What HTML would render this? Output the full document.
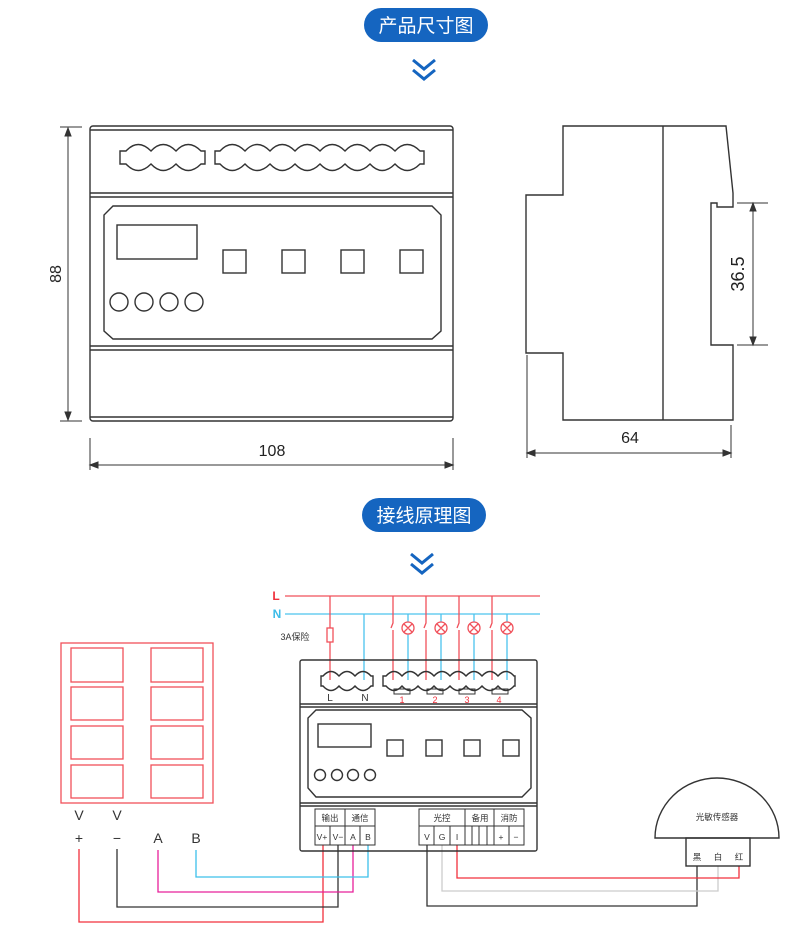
<!DOCTYPE html>
<html><head><meta charset="utf-8"><style>body{margin:0;background:#fff}svg{display:block}</style></head><body>
<svg width="800" height="942" viewBox="0 0 800 942" xmlns="http://www.w3.org/2000/svg" font-family="Liberation Sans, Noto Sans CJK SC, sans-serif">
<rect x="364" y="8" width="124" height="34" rx="17" fill="#1565c0"/>
<text x="426" y="32" font-size="19" fill="#fff" text-anchor="middle">产品尺寸图</text>
<path d="M413 60l11 9 11-9M413 70l11 9 11-9" stroke="#1565c0" stroke-width="3" fill="none"/>
<rect x="362" y="498" width="124" height="34" rx="17" fill="#1565c0"/>
<text x="424" y="522" font-size="19" fill="#fff" text-anchor="middle">接线原理图</text>
<path d="M411 554l11 9 11-9M411 564l11 9 11-9" stroke="#1565c0" stroke-width="3" fill="none"/>
<g stroke="#333" fill="none" stroke-width="1.4">
<rect x="90" y="126" width="363" height="295" rx="3"/>
<line x1="90" y1="130" x2="453" y2="130"/>
<line x1="90" y1="193" x2="453" y2="193"/><line x1="90" y1="197" x2="453" y2="197"/>
<line x1="90" y1="346" x2="453" y2="346"/><line x1="90" y1="350" x2="453" y2="350"/>
<line x1="90" y1="417" x2="453" y2="417"/>
<path d="M113 206H432L441 215V331L432 339H113L104 331V215Z"/>
<path d="M120 151h6q12-13 25 0q12-13 25 0q12-13 25 0h4v13h-4q-13 13-25 0q-13 13-25 0q-13 13-25 0h-6Z"/>
<path d="M215 151h5q12-13 25 0q12-13 25 0q12-13 25 0q12-13 25 0q12-13 25 0q12-13 25 0q12-13 25 0q12-13 25 0h4v13h-4q-13 13-25 0q-13 13-25 0q-13 13-25 0q-13 13-25 0q-13 13-25 0q-13 13-25 0q-13 13-25 0q-13 13-25 0h-5Z"/>
<rect x="117" y="225" width="80" height="34"/>
<rect x="223" y="250" width="23" height="23"/><rect x="282" y="250" width="23" height="23"/><rect x="341" y="250" width="23" height="23"/><rect x="400" y="250" width="23" height="23"/>
<circle cx="119" cy="302" r="9"/><circle cx="144" cy="302" r="9"/><circle cx="169" cy="302" r="9"/><circle cx="194" cy="302" r="9"/>
<path d="M563 126H726L733 193V207H717V203H711V345H733V420H563V353H526V195H563Z"/>
<line x1="663" y1="126" x2="663" y2="420"/>
</g>
<g stroke="#333" stroke-width="1" fill="#333">
<line x1="60" y1="127" x2="82" y2="127"/><line x1="60" y1="421" x2="82" y2="421"/>
<line x1="68" y1="130" x2="68" y2="418"/><path d="M68 128l-3 8h6zM68 420l-3-8h6z"/>
<line x1="90" y1="438" x2="90" y2="470"/><line x1="453" y1="438" x2="453" y2="470"/>
<line x1="92" y1="465" x2="451" y2="465"/><path d="M90 465l8-3v6zM453 465l-8-3v6z"/>
<line x1="737" y1="203" x2="768" y2="203"/><line x1="737" y1="345" x2="768" y2="345"/>
<line x1="753" y1="206" x2="753" y2="342"/><path d="M753 203l-3 8h6zM753 345l-3-8h6z"/>
<line x1="527" y1="355" x2="527" y2="458"/><line x1="731" y1="425" x2="731" y2="458"/>
<line x1="529" y1="453" x2="729" y2="453"/><path d="M527 453l8-3v6zM731 453l-8-3v6z"/>
</g>
<g font-size="16" fill="#222" text-anchor="middle">
<text x="272" y="456">108</text><text x="630" y="443">64</text>
<text transform="translate(61 274) rotate(-90)">88</text>
<text transform="translate(744 274) rotate(-90)" font-size="18">36.5</text>
</g>
<g fill="none" stroke-width="1.3">
<line x1="285" y1="596" x2="540" y2="596" stroke="#f0505a"/>
<line x1="285" y1="614" x2="540" y2="614" stroke="#4cc3ee"/>
<path d="M330 596V628M330 642V680" stroke="#f0505a"/>
<rect x="327" y="628" width="6" height="14" stroke="#f0505a"/>
<path d="M364 614V680" stroke="#4cc3ee"/>
<g stroke="#f0505a"><path d="M393 596V623l-2 5M393 630V680M426 596V623l-2 5M426 630V680M459 596V623l-2 5M459 630V680M492 596V623l-2 5M492 630V680"/></g>
<g stroke="#4cc3ee"><path d="M408 614V622M408 634V680M441 614V622M441 634V680M474 614V622M474 634V680M507 614V622M507 634V680"/></g>
<g stroke="#f0505a"><circle cx="408" cy="628" r="6"/><circle cx="441" cy="628" r="6"/><circle cx="474" cy="628" r="6"/><circle cx="507" cy="628" r="6"/>
<path d="M404 624l8 8M412 624l-8 8M437 624l8 8M445 624l-8 8M470 624l8 8M478 624l-8 8M503 624l8 8M511 624l-8 8"/></g>
<rect x="61" y="643" width="152" height="160" stroke="#f0505a"/>
<g stroke="#f0505a"><rect x="71" y="648" width="52" height="34"/><rect x="151" y="648" width="52" height="34"/><rect x="71" y="687" width="52" height="33"/><rect x="151" y="687" width="52" height="33"/><rect x="71" y="726" width="52" height="33"/><rect x="151" y="726" width="52" height="33"/><rect x="71" y="765" width="52" height="33"/><rect x="151" y="765" width="52" height="33"/></g>
<path d="M323 845V922H79V849" stroke="#f2303c"/>
<path d="M338 845V907H117V849" stroke="#333"/>
<path d="M353 845V892H158V850" stroke="#e8209a"/>
<path d="M368 845V877H196V850" stroke="#3cc0ea"/>
<path d="M427 845V906H697V866" stroke="#333"/>
<path d="M442 845V891H718V866" stroke="#ccc"/>
<path d="M457 845V878H739V866" stroke="#f2303c"/>
</g>
<g stroke="#333" fill="none" stroke-width="1.4">
<rect x="300" y="660" width="237" height="191" rx="2"/>
<line x1="300" y1="704" x2="537" y2="704"/><line x1="300" y1="707" x2="537" y2="707"/>
<line x1="300" y1="803" x2="537" y2="803"/><line x1="300" y1="806" x2="537" y2="806"/>
<path d="M316 710H522L531 718V788L522 797H316L308 788V718Z"/>
<path d="M321 676h2q8-9 16 0q8-9 16 0q8-9 16 0h2v10h-2q-8 9-16 0q-8 9-16 0q-8 9-16 0h-2Z"/>
<path d="M383 676h3q8-9 16 0q8-9 16 0q8-9 16 0q8-9 16 0q8-9 16 0q8-9 16 0q8-9 16 0q8-9 16 0h1v10h-1q-8 9-16 0q-8 9-16 0q-8 9-16 0q-8 9-16 0q-8 9-16 0q-8 9-16 0q-8 9-16 0q-8 9-16 0h-3Z"/>
<path d="M394 689h16v5h-16zM427 689h16v5h-16zM459 689h16v5h-16zM492 689h16v5h-16z" stroke-width="1"/>
<rect x="318" y="724" width="53" height="23"/>
<rect x="387" y="740" width="16" height="16"/><rect x="426" y="740" width="16" height="16"/><rect x="464" y="740" width="16" height="16"/><rect x="503" y="740" width="16" height="16"/>
<circle cx="320" cy="775" r="5.5"/><circle cx="337" cy="775" r="5.5"/><circle cx="353" cy="775" r="5.5"/><circle cx="370" cy="775" r="5.5"/>
<g stroke-width="1"><rect x="315" y="809" width="60" height="36"/><line x1="315" y1="826" x2="375" y2="826"/><line x1="345" y1="809" x2="345" y2="845"/><path d="M330 826V845M360 826V845"/>
<rect x="419" y="809" width="105" height="36"/><line x1="419" y1="826" x2="524" y2="826"/><path d="M465 809V845M494 809V845M434 826V845M450 826V845M472 826V845M479 826V845M487 826V845M509 826V845"/></g>
<path d="M655 838A62 60 0 0 1 779 838Z"/>
<rect x="686" y="838" width="64" height="28"/>
</g>
<g font-size="10" fill="#333" text-anchor="middle">
<text x="276" y="600" font-size="12" fill="#f0303c" font-weight="bold">L</text>
<text x="277" y="618" font-size="12" fill="#3cbce8" font-weight="bold">N</text>
<text x="295" y="640" font-size="9">3A保险</text>
<text x="330" y="701">L</text><text x="365" y="701">N</text>
<g fill="#f0303c" font-size="9"><text x="402" y="703">1</text><text x="435" y="703">2</text><text x="467" y="703">3</text><text x="499" y="703">4</text></g>
<g font-size="8.5"><text x="330" y="821">输出</text><text x="360" y="821">通信</text><text x="442" y="821">光控</text><text x="480" y="821">备用</text><text x="509" y="821">消防</text>
<text x="322" y="840">V+</text><text x="338" y="840">V−</text><text x="353" y="840">A</text><text x="368" y="840">B</text>
<text x="427" y="840">V</text><text x="442" y="840">G</text><text x="457" y="840">I</text><text x="501" y="840">+</text><text x="516" y="840">−</text>
<text x="717" y="820">光敏传感器</text><text x="697" y="860">黑</text><text x="718" y="860">白</text><text x="739" y="860">红</text></g>
<g font-size="14"><text x="79" y="820">V</text><text x="117" y="820">V</text><text x="79" y="843">+</text><text x="117" y="843">−</text><text x="158" y="843">A</text><text x="196" y="843">B</text></g>
</g>
</svg>
</body></html>
